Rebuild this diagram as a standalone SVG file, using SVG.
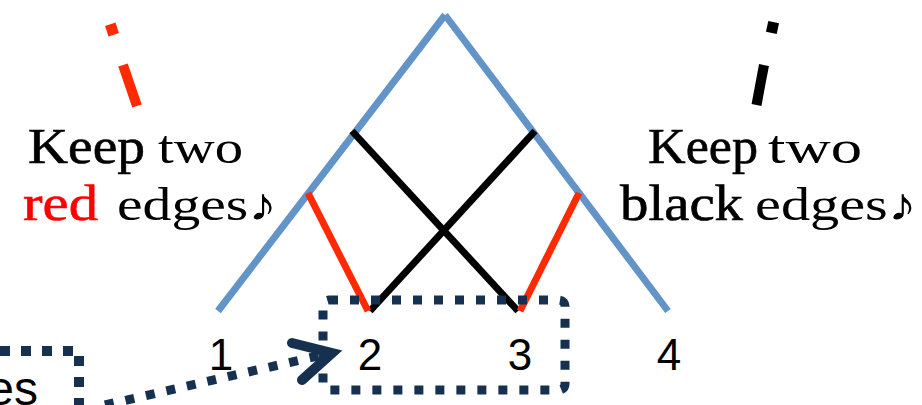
<svg xmlns="http://www.w3.org/2000/svg" width="922" height="405" viewBox="0 0 922 405">
<style>
.blue{stroke:#6394C8;stroke-width:7;fill:none}
.blk{stroke:#000;stroke-width:7;fill:none}
.red{stroke:#FF2A00;stroke-width:7;fill:none}
.dot{stroke:#16304F;stroke-width:9;fill:none;stroke-dasharray:9 12}
.ser{font-family:"Liberation Serif","DejaVu Serif",serif;fill:#000}
.bold{stroke:#000;stroke-width:0.6}
.num{font-family:"Liberation Sans","DejaVu Sans",sans-serif;font-size:44px;fill:#000}
</style>
<rect width="922" height="405" fill="#fff"/>
<g id="connectors">
  <line class="blue" x1="445" y1="15" x2="218" y2="311"/>
  <line class="blue" x1="445" y1="15" x2="668" y2="311"/>
  <line class="blk" x1="352" y1="131" x2="518" y2="311"/>
  <line class="blk" x1="535" y1="131" x2="370" y2="311"/>
  <line class="red" x1="308" y1="193" x2="368" y2="311"/>
  <line class="red" x1="579" y1="193" x2="520" y2="311"/>
  <line class="dot" x1="105" y1="405" x2="322" y2="355"/>
  <path d="M292,343 L332,353 L302,380" fill="none" stroke="#16304F" stroke-width="10" stroke-linecap="round" stroke-linejoin="miter"/>
</g>
<g id="mark-red">
  <rect x="106.5" y="24" width="11" height="11" fill="#FF2A00" transform="rotate(-18 112 29.5)"/>
  <line x1="123" y1="65" x2="137" y2="106" stroke="#FF2A00" stroke-width="10"/>
</g>
<g id="mark-black">
  <rect x="767" y="22" width="11" height="11" fill="#000" transform="rotate(12 772.5 27.5)"/>
  <line x1="764" y1="65" x2="756.5" y2="105" stroke="#000" stroke-width="10"/>
</g>
<g id="label-left">
  <text class="ser bold" x="28" y="163" font-size="50" textLength="117" lengthAdjust="spacingAndGlyphs">Keep</text>
  <text class="ser" x="158" y="163" font-size="46" textLength="85" lengthAdjust="spacingAndGlyphs">two</text>
  <text class="ser" x="23" y="220" font-size="50" style="fill:#FF0000;stroke:#FF0000;stroke-width:0.6" textLength="75" lengthAdjust="spacingAndGlyphs">red</text>
  <text class="ser" x="117" y="220" font-size="46" textLength="160" lengthAdjust="spacingAndGlyphs">edges♪</text>
</g>
<g id="label-right">
  <text class="ser bold" x="648" y="163" font-size="50" textLength="110" lengthAdjust="spacingAndGlyphs">Keep</text>
  <text class="ser" x="768" y="163" font-size="46" textLength="94" lengthAdjust="spacingAndGlyphs">two</text>
  <text class="ser bold" x="620" y="220" font-size="50" textLength="123" lengthAdjust="spacingAndGlyphs">black</text>
  <text class="ser" x="755" y="220" font-size="46" textLength="162" lengthAdjust="spacingAndGlyphs">edges♪</text>
</g>
<g id="box-23">
  <rect class="dot" x="323" y="300" width="242" height="90" rx="6"/>
</g>
<g id="box-left">
  <path class="dot" d="M0,351 H79 V405" style="stroke-width:10;stroke-dasharray:10 11"/>
  <text x="38" y="405" text-anchor="end" font-family="Liberation Sans, sans-serif" font-size="48" fill="#000">es</text>
</g>
<g id="n1"><text class="num" x="221" y="370" text-anchor="middle">1</text></g>
<g id="n2"><text class="num" x="370" y="370" text-anchor="middle">2</text></g>
<g id="n3"><text class="num" x="520" y="370" text-anchor="middle">3</text></g>
<g id="n4"><text class="num" x="669" y="370" text-anchor="middle">4</text></g>
</svg>
